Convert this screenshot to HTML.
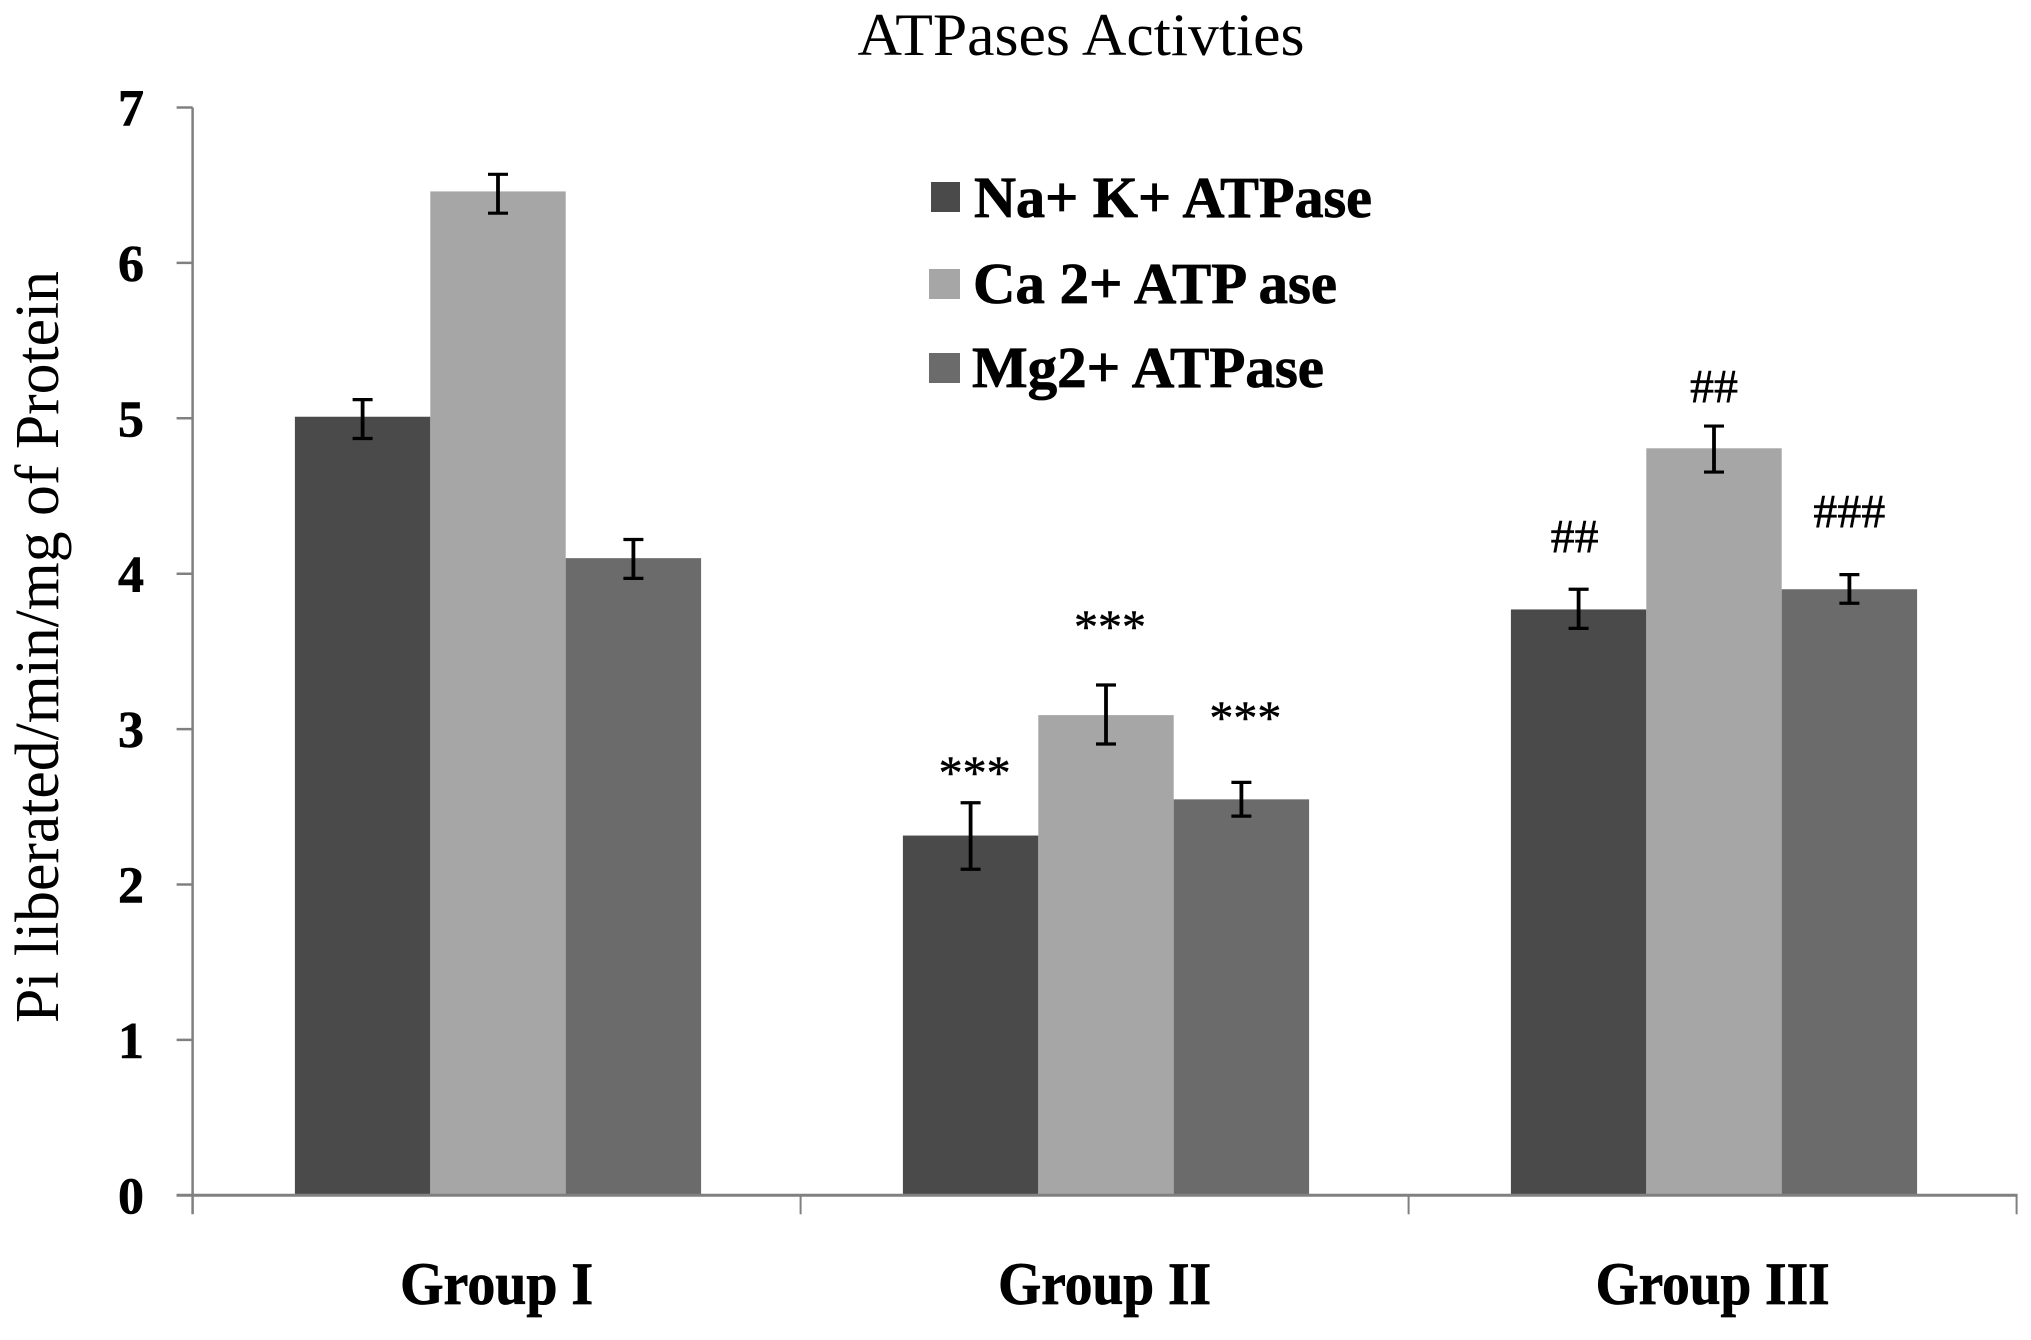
<!DOCTYPE html>
<html lang="en">
<head>
<meta charset="utf-8">
<title>ATPases Activties</title>
<style>
  html, body { margin: 0; padding: 0; background: #fff; }
  svg { display: block; font-family: "Liberation Serif", "Times New Roman", serif; }
</style>
</head>
<body>
<svg id="chart" xmlns="http://www.w3.org/2000/svg" width="2031" height="1340" viewBox="0 0 2031 1340">
  <rect x="0" y="0" width="2031" height="1340" fill="#ffffff"/>
  <text x="1081" y="55" font-size="60" text-anchor="middle" textLength="447" lengthAdjust="spacingAndGlyphs" fill="#000">ATPases Activties</text>
  <text transform="translate(58 1023) rotate(-90)" x="0" y="0" font-size="62" textLength="752" lengthAdjust="spacingAndGlyphs" fill="#000">Pi liberated/min/mg of Protein</text>
  <g id="plot"></g>
  <g font-weight="bold" font-size="58" fill="#000" stroke="#000" stroke-width="0.8">
    <rect x="931" y="182" width="29" height="30" fill="#4a4a4a" stroke="none"/>
    <text x="974" y="217" textLength="398" lengthAdjust="spacingAndGlyphs">Na+ K+ ATPase</text>
    <rect x="929" y="269" width="31" height="30" fill="#a6a6a6" stroke="none"/>
    <text x="973" y="303" textLength="364" lengthAdjust="spacingAndGlyphs">Ca 2+ ATP ase</text>
    <rect x="929" y="353" width="31" height="30" fill="#6b6b6b" stroke="none"/>
    <text x="972" y="387" textLength="352" lengthAdjust="spacingAndGlyphs">Mg2+ ATPase</text>
  </g>
</svg>
<script>
// Chart data
const categories = ["Group I", "Group II", "Group III"];
const yTickLabels = [0, 1, 2, 3, 4, 5, 6, 7];
const naValues = [5.01, 2.315, 3.77];
const caValues = [6.46, 3.09, 4.807];
const mgValues = [4.10, 2.548, 3.90];
const naUpper = [5.12, 2.526, 3.90];
const naLower = [4.87, 2.098, 3.648];
const caUpper = [6.57, 3.284, 4.95];
const caLower = [6.32, 2.904, 4.654];
const mgUpper = [4.22, 2.657, 3.994];
const mgLower = [3.97, 2.44, 3.81];
const naMarks = ["", "***", "##"];
const caMarks = ["", "***", "##"];
const mgMarks = ["", "***", "###"];
const naMarkGap = [0, 0.087, 0.238];
const caMarkGap = [0, 0.269, 0.153];
const mgMarkGap = [0, 0.31, 0.302];

// Scales
const Y0 = 1195.3, Y_UNIT = 155.4;
const X0 = 192.6, BAND = 608;
const BAR_W = 135.4;
function yScale(v) { return Y0 - v * Y_UNIT; }
function bandLeft(i) { return X0 + i * BAND; }
function barCenter(i, s) { return bandLeft(i) + BAND / 2 + 1.4 + (s - 1) * BAR_W; }

const NS = "http://www.w3.org/2000/svg";
const plot = document.getElementById("plot");
function make(tag, attrs, text) {
  const el = document.createElementNS(NS, tag);
  for (const k in attrs) el.setAttribute(k, attrs[k]);
  if (text !== undefined) el.textContent = text;
  plot.appendChild(el);
  return el;
}

const seriesKeys = ["na-k", "ca", "mg"];
const seriesColors = ["#4a4a4a", "#a6a6a6", "#6b6b6b"];
const seriesValues = [naValues, caValues, mgValues];
const seriesUpper = [naUpper, caUpper, mgUpper];
const seriesLower = [naLower, caLower, mgLower];
const seriesMarks = [naMarks, caMarks, mgMarks];
const seriesGaps = [naMarkGap, caMarkGap, mgMarkGap];

// Bars
seriesValues.forEach(function (vals, s) {
  vals.forEach(function (v, i) {
    const bar = make("rect", {
      x: barCenter(i, s) - BAR_W / 2,
      y: yScale(v),
      width: BAR_W,
      height: Y0 - yScale(v),
      fill: seriesColors[s]
    });
    
    
  });
});

// Axes
const AXIS = "#808080";
const yAxisLine = make("line", { x1: X0, x2: X0, y1: yScale(7), y2: Y0 + 19, stroke: AXIS, "stroke-width": 2.5 });


const xAxisLine = make("line", { x1: X0 - 16, x2: bandLeft(categories.length) + 1, y1: Y0, y2: Y0, stroke: AXIS, "stroke-width": 3 });



yTickLabels.forEach(function (t) {
  const tick = make("line", { x1: X0 - 16, x2: X0, y1: yScale(t), y2: yScale(t), stroke: AXIS, "stroke-width": 2.5 });
  
  
  const label = make("text", { x: 144, y: yScale(t) + 18, "text-anchor": "end", "font-size": 52, "font-weight": "bold", fill: "#000", stroke: "#000", "stroke-width": 0.6 }, String(t));
  
  
});

for (let i = 1; i <= categories.length; i++) {
  const xt = make("line", { x1: bandLeft(i), x2: bandLeft(i), y1: Y0, y2: Y0 + 19, stroke: AXIS, "stroke-width": 2 });
  
  
}

const groupLabelWidths = [193, 213, 234];
categories.forEach(function (c, i) {
  const label = make("text", {
    x: bandLeft(i) + BAND / 2, y: 1304, "text-anchor": "middle", "font-size": 60, "font-weight": "bold",
    textLength: groupLabelWidths[i], lengthAdjust: "spacingAndGlyphs", fill: "#000", stroke: "#000", "stroke-width": 0.8
  }, c);
  
  
});

// Error bars and significance marks
seriesValues.forEach(function (vals, s) {
  vals.forEach(function (v, i) {
    const cx = barCenter(i, s);
    const yt = yScale(seriesUpper[s][i]);
    const yb = yScale(seriesLower[s][i]);
    const stem = make("line", { x1: cx, x2: cx, y1: yt, y2: yb, stroke: "#000", "stroke-width": 3.8 });
    
    
    const capTop = make("line", { x1: cx - 10, x2: cx + 10, y1: yt, y2: yt, stroke: "#000", "stroke-width": 3.2 });
    
    
    const capBottom = make("line", { x1: cx - 10, x2: cx + 10, y1: yb, y2: yb, stroke: "#000", "stroke-width": 3.2 });
    
    
    const m = seriesMarks[s][i];
    if (m) {
      const nudge = m.charAt(0) === "*" ? 4 : (s === 0 ? -4 : 0);
      const mark = make("text", {
        x: cx + nudge, y: yScale(seriesUpper[s][i] + seriesGaps[s][i]),
        "text-anchor": "middle", "font-size": 48, fill: "#000", stroke: "#000", "stroke-width": 0.5
      }, m);
      
      
    }
  });
});
</script>
</body>
</html>
